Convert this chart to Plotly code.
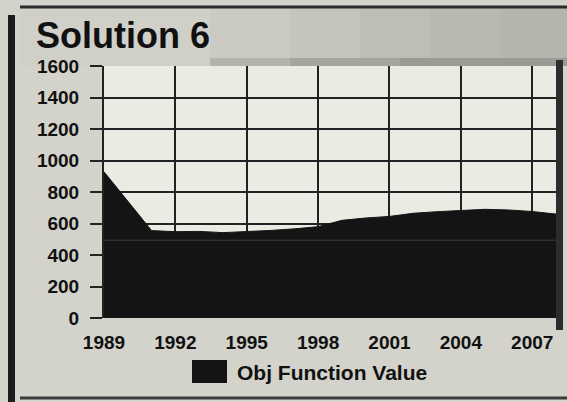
import plotly.graph_objects as go

# Objective function value per year
years = [1989, 1990, 1991, 1992, 1993, 1994, 1995, 1996, 1997, 1998,
         1999, 2000, 2001, 2002, 2003, 2004, 2005, 2006, 2007, 2008]
obj_values = [928, 740, 555, 548, 550, 542, 547, 556, 566, 580,
              620, 635, 645, 665, 675, 684, 690, 686, 676, 660]

x_ticks = [1989, 1992, 1995, 1998, 2001, 2004, 2007]
y_ticks = [0, 200, 400, 600, 800, 1000, 1200, 1400, 1600]

title_text = "Solution 6"
series_name = "Obj Function Value"

W, H = 567, 402
L, R, T, B = 104, 11, 66, 84
PW, PH = W - L - R, H - T - B

FONT = "Liberation Sans, Arial, Helvetica, sans-serif"
INK = "#141414"
GRID = "#222222"


def px(x):
    return (x - L) / PW


def py(y):
    return (H - B - y) / PH


fig = go.Figure()
fig.add_trace(go.Scatter(
    x=years, y=obj_values, name=series_name,
    mode="lines", line=dict(color=INK, width=1),
    fill="tozeroy", fillcolor=INK, showlegend=False,
))

shapes = []
# worn header band: lighter on the left, darker toward the right
band_cols = ["#d0d0c9", "#cbcbc4", "#c5c5be", "#bebeb7", "#b9b9b2", "#b5b5ae"]
edges = [20, 210, 290, 360, 430, 500, 567]
for c, a, b in zip(band_cols, edges[:-1], edges[1:]):
    shapes.append(dict(type="rect", xref="paper", yref="paper",
                       x0=px(a), x1=px(b), y0=py(8), y1=py(66),
                       fillcolor=c, line_width=0, layer="below"))
edge_cols = ["#b4b4ad", "#a5a59f", "#9b9b95"]
edge_x = [210, 290, 400, 567]
for c, a, b in zip(edge_cols, edge_x[:-1], edge_x[1:]):
    shapes.append(dict(type="rect", xref="paper", yref="paper",
                       x0=px(a), x1=px(b), y0=py(58), y1=py(66),
                       fillcolor=c, line_width=0, layer="below"))

shapes += [
    # panel frame
    dict(type="line", xref="paper", yref="paper",
         x0=px(20), x1=px(567), y0=py(7), y1=py(7),
         line=dict(color="#2a2a2a", width=3)),
    dict(type="line", xref="paper", yref="paper",
         x0=px(20), x1=px(567), y0=py(398), y1=py(398),
         line=dict(color="#3a3a3a", width=3)),
    dict(type="rect", xref="paper", yref="paper",
         x0=px(8), x1=px(15), y0=py(402), y1=py(15),
         fillcolor="#1c1c1c", line_width=0),
    dict(type="rect", xref="paper", yref="paper",
         x0=px(556), x1=px(563), y0=py(330), y1=py(60),
         fillcolor="#2c2c2c", line_width=0),
    # faint seam inside the filled area
    dict(type="line", xref="paper", yref="y",
         x0=0, x1=1, y0=494, y1=494,
         line=dict(color="#3c3c3c", width=1)),
    # legend swatch
    dict(type="rect", xref="paper", yref="paper",
         x0=px(192), x1=px(227), y0=py(383), y1=py(360),
         fillcolor=INK, line_width=0),
]

annotations = [
    dict(text=f"<b>{title_text}</b>", xref="paper", yref="paper",
         x=px(34), y=py(36), xanchor="left", yanchor="middle",
         showarrow=False, font=dict(family=FONT, size=36, color="#111111")),
    dict(text=f"<b>{series_name}</b>", xref="paper", yref="paper",
         x=px(235), y=py(372), xanchor="left", yanchor="middle",
         showarrow=False, font=dict(family=FONT, size=21, color="#111111")),
]

fig.update_layout(
    width=W, height=H,
    margin=dict(l=L, r=R, t=T, b=B, pad=0),
    paper_bgcolor="#d3d3cc",
    plot_bgcolor="#ebebe4",
    shapes=shapes,
    annotations=annotations,
    font=dict(family=FONT, color="#111111"),
)

fig.update_xaxes(
    range=[1989, 2008], tickvals=x_ticks,
    ticktext=[f"<b>{t}</b>" for t in x_ticks],
    showgrid=True, gridcolor=GRID, gridwidth=2,
    zeroline=False, showline=False, ticks="",
    ticklabelstandoff=11,
    tickfont=dict(family=FONT, size=19, color="#111111"),
)
fig.update_yaxes(
    range=[0, 1600], tickvals=y_ticks,
    ticktext=[f"<b>{t}</b>" for t in y_ticks],
    showgrid=True, gridcolor=GRID, gridwidth=2,
    zeroline=False, showline=True, linecolor=GRID, linewidth=2,
    ticks="outside", ticklen=12, tickwidth=2, tickcolor=GRID,
    ticklabelstandoff=7,
    tickfont=dict(family=FONT, size=19, color="#111111"),
)

fig.write_html("out.html")
